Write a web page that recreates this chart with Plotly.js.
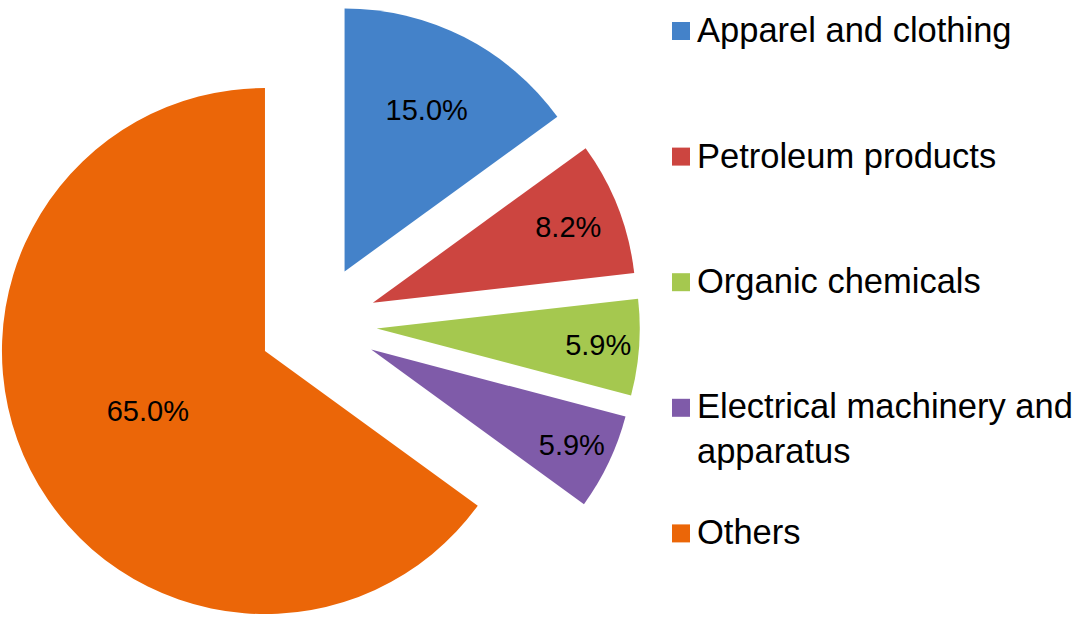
<!DOCTYPE html>
<html>
<head>
<meta charset="utf-8">
<script src="https://cdn.plot.ly/plotly-3.0.1.min.js"></script>
<style>
  html, body { margin: 0; padding: 0; overflow: hidden; background: #ffffff; width: 1078px; height: 620px; }
  #chart { position: absolute; left: -20px; top: 0px; width: 1098px; height: 660px; }
</style>
</head>
<body>
<div id="chart"></div>
<script>
// ---- data ----
const categories = ["Apparel and clothing", "Petroleum products", "Organic chemicals", "Electrical machinery and apparatus", "Others"];
const legendLabels = ["Apparel and clothing", "Petroleum products", "Organic chemicals", "Electrical machinery and<br>apparatus", "Others"];
const shares = [15.0, 8.2, 5.9, 5.9, 65.0];
const colors = ["#4482C9", "#CC4540", "#A5C84F", "#7F5BA9", "#EB6608"];
const pulls = [0.225, 0.225, 0.225, 0.225, 0.225];

// ---- layout helpers (page pixels -> paper coords of the offset div) ----
const DIV_W = 1098, DIV_H = 660, OFF_X = -20, OFF_Y = 0;
const px = X => (X - OFF_X) / DIV_W;
const py = Y => 1 - (Y - OFF_Y) / DIV_H;

const FONT = "Liberation Sans, Arial, sans-serif";

const trace = {
  type: "pie",
  labels: categories,
  values: shares,
  sort: false,
  direction: "clockwise",
  rotation: 0,
  pull: pulls,
  marker: { colors: colors, line: { width: 0 } },
  textposition: "inside",
  insidetextorientation: "horizontal",
  texttemplate: "%{percent:.1%}",
  textfont: { family: FONT, size: 29, color: "#000000" },
  hoverinfo: "label+percent",
  showlegend: false,
  domain: { x: [px(-4.6), px(640.0)], y: [py(646.4), py(2)] }
};

// legend drawn as shapes + annotations
const rowTop = 31, rowStep = 125.6, markSize = 18, markX = 672, textX = 695;
const shapes = [], annotations = [];
categories.forEach((c, i) => {
  const yc = rowTop + i * rowStep;
  shapes.push({
    type: "rect", xref: "paper", yref: "paper",
    x0: px(markX), x1: px(markX + markSize),
    y0: py(yc + markSize / 2), y1: py(yc - markSize / 2),
    fillcolor: colors[i], line: { width: 0 }
  });
  const lines = legendLabels[i].split("<br>").length;
  annotations.push({
    xref: "paper", yref: "paper",
    x: px(textX), y: py(yc + (lines - 1) * 22 - 1),
    xanchor: "left", yanchor: "middle", align: "left",
    text: legendLabels[i], showarrow: false,
    font: { family: FONT, size: 34.5, color: "#000000" }
  });
});

const layout = {
  width: DIV_W, height: DIV_H,
  margin: { l: 0, r: 0, t: 0, b: 0, pad: 0 },
  paper_bgcolor: "#ffffff",
  showlegend: false,
  shapes: shapes,
  annotations: annotations,
  font: { family: FONT }
};

Plotly.newPlot("chart", [trace], layout, { displayModeBar: false, responsive: false });
</script>
</body>
</html>
